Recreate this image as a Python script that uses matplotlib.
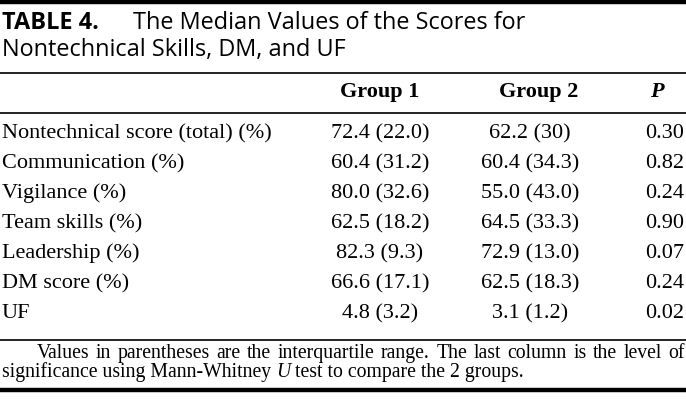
import matplotlib.pyplot as plt

# 표 데이터
row_labels = ["Nontechnical score (total) (%)", "Communication (%)", "Vigilance (%)",
              "Team skills (%)", "Leadership (%)", "DM score (%)", "UF"]
group1 = ["72.4 (22.0)", "60.4 (31.2)", "80.0 (32.6)", "62.5 (18.2)",
          "82.3 (9.3)", "66.6 (17.1)", "4.8 (3.2)"]
group2 = ["62.2 (30)", "60.4 (34.3)", "55.0 (43.0)", "64.5 (33.3)",
          "72.9 (13.0)", "62.5 (18.3)", "3.1 (1.2)"]
p_values = ["0.30", "0.82", "0.24", "0.90", "0.07", "0.24", "0.02"]
col_headers = ["Group 1", "Group 2"]

W, H = 686, 401
fig = plt.figure(figsize=(W / 100, H / 100), dpi=100)
ax = fig.add_axes([0, 0, 1, 1])
ax.set_xlim(0, W)
ax.set_ylim(H, 0)
ax.axis("off")

sans = "Open Sans"
serif = "Liberation Serif"
fs = 16
fs_title = 16.9
fs_note = 14.2

# 제목
ax.text(2, 29, "TABLE 4.", fontfamily=sans, fontweight="bold", fontsize=fs_title, va="baseline")
ax.text(133, 29, "The Median Values of the Scores for", fontfamily=sans, fontsize=fs_title, va="baseline")
ax.text(2, 56, "Nontechnical Skills, DM, and UF", fontfamily=sans, fontsize=fs_title, va="baseline")

# 가로줄
ax.plot([0, W], [2, 2], color="black", lw=3.2, solid_capstyle="butt")
ax.plot([0, W], [73, 73], color="black", lw=1.2, solid_capstyle="butt")
ax.plot([0, W], [113, 113], color="black", lw=1.2, solid_capstyle="butt")
ax.plot([0, W], [340, 340], color="black", lw=1.2, solid_capstyle="butt")
ax.plot([0, W], [390, 390], color="black", lw=3.2, solid_capstyle="butt")

# 헤더
x_g1, x_g2, x_p = 380, 530, 660
ax.text(x_g1, 97, col_headers[0], fontfamily=serif, fontweight="bold", fontsize=fs, ha="center", va="baseline")
ax.text(x_g2 + 9, 97, col_headers[1], fontfamily=serif, fontweight="bold", fontsize=fs, ha="center", va="baseline")
ax.text(x_p - 3, 97, "P", fontfamily=serif, fontweight="bold", fontstyle="italic", fontsize=fs, ha="center", va="baseline")

# 본문
y0, dy = 138, 30
for i in range(len(row_labels)):
    y = y0 + i * dy
    ax.text(2, y, row_labels[i], fontfamily=serif, fontsize=fs, va="baseline")
    ax.text(x_g1, y, group1[i], fontfamily=serif, fontsize=fs, ha="center", va="baseline")
    ax.text(x_g2, y, group2[i], fontfamily=serif, fontsize=fs, ha="center", va="baseline")
    ax.text(684, y, p_values[i], fontfamily=serif, fontsize=fs, ha="right", va="baseline")

# 각주 (첫 줄은 양쪽 정렬)
fig.canvas.draw()
rend = fig.canvas.get_renderer()

def text_width(s, **kw):
    t = ax.text(0, 0, s, fontfamily=serif, fontsize=fs_note, alpha=0, **kw)
    w = t.get_window_extent(rend).width
    t.remove()
    return w

space = text_width("a a") - text_width("aa")

note1 = "Values in parentheses are the interquartile range. The last column is the level of"
words = note1.split()
widths = [text_width(w) for w in words]
left, right = 37, 685
gap = max((right - left - sum(widths)) / (len(words) - 1), 2.5)
x = left
for w, wd in zip(words, widths):
    ax.text(x, 358, w, fontfamily=serif, fontsize=fs_note, va="baseline")
    x += wd + gap

part1 = "significance using Mann-Whitney"
ax.text(2, 377, part1, fontfamily=serif, fontsize=fs_note, va="baseline")
x2 = 2 + text_width(part1) + space
ax.text(x2, 377, "U", fontfamily=serif, fontstyle="italic", fontsize=fs_note, va="baseline")
x2 += text_width("U", fontstyle="italic") + space
ax.text(x2, 377, "test to compare the 2 groups.", fontfamily=serif, fontsize=fs_note, va="baseline")

fig.savefig("out.png", dpi=100)
